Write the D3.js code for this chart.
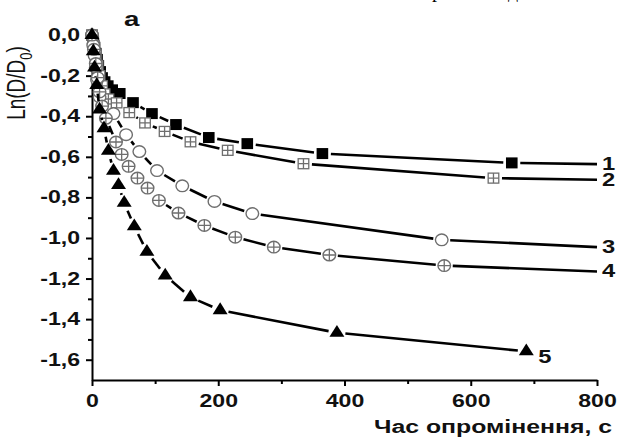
<!DOCTYPE html>
<html>
<head>
<meta charset="utf-8">
<script src="https://cdn.jsdelivr.net/npm/d3@7"></script>
<style>
  body { margin: 0; background: #fff; }
  svg { display: block; font-family: Arial, "Liberation Sans", sans-serif; }
</style>
</head>
<body>
<div id="chart"></div>
<script>
// values: time (s) and Ln(D/D0)
const s1T = [0, 2, 4, 6, 8, 10, 13, 16, 20, 25, 32, 44, 65, 95, 133, 185, 246, 365, 665];
const s1V = [0, -0.03, -0.06, -0.09, -0.12, -0.15, -0.18, -0.21, -0.23, -0.25, -0.27, -0.288, -0.333, -0.387, -0.441, -0.505, -0.535, -0.584, -0.63];
const s2T = [0, 3, 6, 9, 12, 16, 20, 26, 39, 59, 84, 115, 156, 215, 335, 636];
const s2V = [0, -0.05, -0.1, -0.15, -0.2, -0.25, -0.29, -0.315, -0.334, -0.382, -0.433, -0.475, -0.526, -0.568, -0.634, -0.705];
const s3T = [0, 2, 4, 6, 8, 12, 34, 54, 75, 103, 143, 194, 254, 554];
const s3V = [0, -0.05, -0.1, -0.16, -0.22, -0.305, -0.387, -0.491, -0.574, -0.668, -0.743, -0.82, -0.88, -1.009];
const s4T = [0, 3, 6, 9, 12, 16, 22, 38, 47, 58, 72, 88, 106, 137, 178, 227, 288, 376, 558];
const s4V = [0, -0.07, -0.14, -0.21, -0.28, -0.35, -0.41, -0.527, -0.588, -0.647, -0.705, -0.754, -0.815, -0.877, -0.938, -0.996, -1.045, -1.084, -1.136];
const s5T = [0, 2, 4, 7.5, 12, 19, 26, 34, 42, 51, 67, 87, 116, 156, 203, 388, 688];
const s5V = [0, -0.08, -0.16, -0.247, -0.367, -0.46, -0.57, -0.669, -0.739, -0.827, -0.943, -1.068, -1.185, -1.292, -1.356, -1.467, -1.559];

// line tails drawn to the right edge without a symbol (null = no tail)
const tailT = [800, 800, 800, 800, null];
const tailV = [-0.636, -0.713, -1.045, -1.165, null];
const seriesNames = ["1", "2", "3", "4", "5"];
const symbols = ["square", "squarePlus", "circle", "circlePlus", "triangle"];

const xTicks = [0, 200, 400, 600, 800];
const xTickLabels = ["0", "200", "400", "600", "800"];
const xMinor = [100, 300, 500, 700];
const yTicks = [0, -0.2, -0.4, -0.6, -0.8, -1.0, -1.2, -1.4, -1.6];
const yTickLabels = ["0,0", "-0,2", "-0,4", "-0,6", "-0,8", "-1,0", "-1,2", "-1,4", "-1,6"];
const yMinor = [-0.1, -0.3, -0.5, -0.7, -0.9, -1.1, -1.3, -1.5];

const W = 617, H = 437;
const sx = 1.32; // the scanned figure is stretched sideways
const svg = d3.select("#chart").append("svg").attr("width", W).attr("height", H);

const x = d3.scaleLinear().domain([0, 800]).range([92, 597]);
const y = d3.scaleLinear().domain([-1.7, 0.025]).range([380, 30]);

// stretched text helper
const label = (px, py, txt, size, anchor, bold) =>
  svg.append("g").attr("transform", `translate(${px},${py}) scale(${sx},1)`)
    .append("text").attr("text-anchor", anchor || "start")
    .style("font-size", size + "px").style("font-weight", bold ? "bold" : "normal")
    .attr("fill", "#111").text(txt);

// cut-off text line from the page above
svg.append("text").attr("x", 432).attr("y", -3).attr("fill", "#000")
  .style("font-family", "'Liberation Serif', serif").style("font-size", "20px")
  .text("р");
svg.append("text").attr("x", 508).attr("y", -3).attr("fill", "#000")
  .style("font-family", "'Liberation Serif', serif").style("font-size", "20px")
  .text("д");

// axes
const axX = svg.append("g").attr("transform", "translate(0,380)")
  .call(d3.axisBottom(x).tickValues(xTicks).tickSize(6).tickSizeOuter(0)
    .tickFormat((d, i) => xTickLabels[i]));
svg.append("g").attr("transform", "translate(0,380)")
  .call(d3.axisBottom(x).tickValues(xMinor).tickSize(4).tickSizeOuter(0).tickFormat(""))
  .select(".domain").remove();
const axY = svg.append("g").attr("transform", "translate(92,0)")
  .call(d3.axisLeft(y).tickValues(yTicks).tickSize(6).tickSizeOuter(0)
    .tickFormat((d, i) => yTickLabels[i]));
svg.append("g").attr("transform", "translate(92,0)")
  .call(d3.axisLeft(y).tickValues(yMinor).tickSize(4).tickSizeOuter(0).tickFormat(""))
  .select(".domain").remove();

svg.selectAll(".domain").attr("stroke", "#000").attr("stroke-width", 2);
svg.selectAll(".tick line").attr("stroke", "#000").attr("stroke-width", 2);
axX.selectAll(".tick text").attr("dy", "1.05em").attr("y", 9)
  .attr("transform", `scale(${sx},1)`)
  .style("font-size", "17.5px").style("font-weight", "bold").attr("fill", "#111");
axY.selectAll(".tick text").attr("x", -9)
  .attr("transform", `scale(${sx},1)`)
  .style("font-size", "17.5px").style("font-weight", "bold").attr("fill", "#111");

// axis titles
svg.append("text").attr("transform", `translate(25,83) scale(${sx},1) rotate(-90)`)
  .attr("text-anchor", "middle").style("font-size", "19px").attr("fill", "#111")
  .html("Ln(D/D<tspan dy='5' font-size='13px'>0</tspan><tspan dy='-5'>)</tspan>");
label(612, 433, "Час опромінення, с", 18.8, "end", true);
label(124, 26, "a", 21, "start", true);

const series = [[s1T, s1V], [s2T, s2V], [s3T, s3V], [s4T, s4V], [s5T, s5V]];
const gap = 8.5;

series.forEach(([ts, vs], si) => {
  const pts = ts.map((t, i) => [x(t), y(vs[i])]);
  const segs = [];
  for (let i = 0; i < pts.length - 1; i++) segs.push([pts[i], pts[i + 1], true]);
  if (tailT[si] !== null) segs.push([pts[pts.length - 1], [x(tailT[si]), y(tailV[si])], false]);
  const g = svg.append("g");
  segs.forEach(([a, b, bothEnds]) => {
    const dx = b[0] - a[0], dy = b[1] - a[1];
    const len = Math.hypot(dx, dy);
    const cut = bothEnds ? 2 * gap : gap;
    if (len <= cut) return;
    const ux = dx / len, uy = dy / len;
    const endGap = bothEnds ? gap : 0;
    g.append("line")
      .attr("x1", a[0] + ux * gap).attr("y1", a[1] + uy * gap)
      .attr("x2", b[0] - ux * endGap).attr("y2", b[1] - uy * endGap)
      .attr("stroke", "#000").attr("stroke-width", 2.6);
  });

  const sym = symbols[si];
  const m = svg.append("g").selectAll("g").data(pts).enter().append("g")
    .attr("transform", (d) => `translate(${d[0]},${d[1]})`);
  const grey = "#6e6e6e";
  if (sym === "square") {
    m.append("rect").attr("x", -5.8).attr("y", -5.5).attr("width", 11.6).attr("height", 11).attr("fill", "#000");
  } else if (sym === "squarePlus") {
    m.append("rect").attr("x", -5.3).attr("y", -5).attr("width", 10.6).attr("height", 10)
      .attr("fill", "#fff").attr("stroke", grey).attr("stroke-width", 1.3);
    m.append("path").attr("d", "M-5.3,0H5.3M0,-5V5").attr("stroke", grey).attr("stroke-width", 1.3);
  } else if (sym === "circle") {
    m.append("ellipse").attr("rx", 6.3).attr("ry", 5.8).attr("fill", "#fff").attr("stroke", grey).attr("stroke-width", 1.4);
  } else if (sym === "circlePlus") {
    m.append("ellipse").attr("rx", 6.3).attr("ry", 5.8).attr("fill", "#fff").attr("stroke", grey).attr("stroke-width", 1.4);
    m.append("path").attr("d", "M-6.3,0H6.3M0,-5.8V5.8").attr("stroke", grey).attr("stroke-width", 1.3);
  } else {
    m.append("path").attr("d", d3.symbol(d3.symbolTriangle, 80)).attr("transform", "scale(1.1,1)").attr("fill", "#000");
  }

  // series number
  const lx = tailT[si] !== null ? x(tailT[si]) + 5 : x(ts[ts.length - 1]) + 12;
  const ly = tailT[si] !== null ? y(tailV[si]) + 6 : y(vs[vs.length - 1]) + 12;
  label(lx, ly, seriesNames[si], 18, "start", true);
});
</script>
</body>
</html>
